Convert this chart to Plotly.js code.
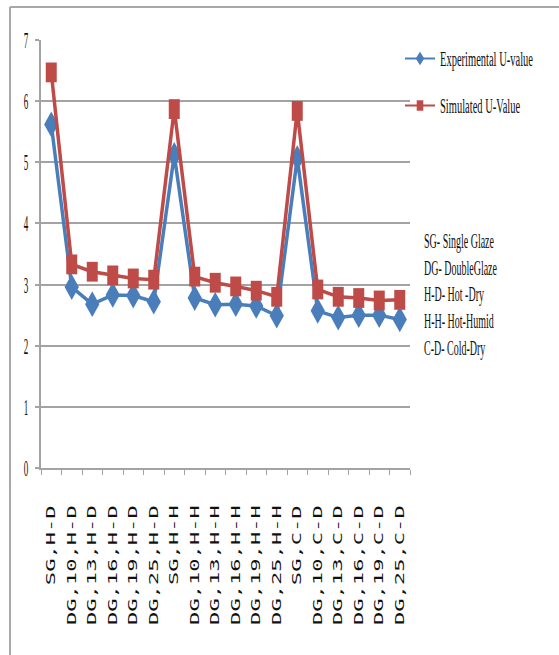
<!DOCTYPE html>
<html>
<head>
<meta charset="utf-8">
<script src="https://cdn.plot.ly/plotly-3.0.1.min.js"></script>
<style>
html, body { margin: 0; padding: 0; background: #ffffff; }
#chart { width: 559px; height: 655px; }
</style>
</head>
<body>
<div id="chart"></div>
<script>
// ---- data ----
const categories = ["SG,H-D","DG,10,H-D","DG,13,H-D","DG,16,H-D","DG,19,H-D","DG,25,H-D",
                    "SG,H-H","DG,10,H-H","DG,13,H-H","DG,16,H-H","DG,19,H-H","DG,25,H-H",
                    "SG,C-D","DG,10,C-D","DG,13,C-D","DG,16,C-D","DG,19,C-D","DG,25,C-D"];
const experimentalU = [5.62, 2.96, 2.68, 2.83, 2.82, 2.72,
                       5.12, 2.78, 2.67, 2.68, 2.65, 2.49,
                       5.07, 2.57, 2.46, 2.50, 2.50, 2.43];
const simulatedU = [6.47, 3.33, 3.21, 3.15, 3.10, 3.08,
                    5.87, 3.13, 3.03, 2.97, 2.90, 2.80,
                    5.84, 2.92, 2.80, 2.78, 2.74, 2.75];
const seriesNames = ["Experimental U-value", "Simulated U-Value"];
const yTickValues = [0, 1, 2, 3, 4, 5, 6, 7];
const noteLines = ["SG- Single Glaze", "DG- DoubleGlaze", "H-D- Hot -Dry", "H-H- Hot-Humid", "C-D- Cold-Dry"];

// ---- styling ----
const BLUE = "#4a7ebb";
const RED = "#be4b48";
const GRID = "#a3a3a3";
const SERIF = "Liberation Serif, Times New Roman, serif";

const traces = [
  {
    type: "scatter", mode: "lines+markers", name: seriesNames[0], legendgroup: "a",
    x: categories, y: experimentalU,
    line: { color: BLUE, width: 3.5 },
    marker: { symbol: "diamond", size: 11, color: BLUE }
  },
  {
    type: "scatter", mode: "lines+markers", name: seriesNames[1], legendgroup: "b",
    x: categories, y: simulatedU,
    line: { color: RED, width: 3.5 },
    marker: { symbol: "square", size: 11, color: RED }
  }
];

const W = 559, H = 655, L = 41, R = 410, T = 40, B = 468;
const px2x = p => (p - L) / (R - L);
const px2y = p => (B - p) / (B - T);

const noteY = [241, 268, 294, 321, 348];
const annotations = noteLines.map((t, i) => ({
  xref: "paper", yref: "paper", x: px2x(422), y: px2y(noteY[i]),
  xanchor: "left", yanchor: "middle", showarrow: false,
  text: t, font: { family: SERIF, size: 10, color: "#111111" }
}));

const layout = {
  width: W, height: H,
  margin: { l: L, r: W - R, t: T, b: H - B, pad: 0 },
  paper_bgcolor: "#ffffff", plot_bgcolor: "#ffffff",
  showlegend: true,
  legend: {
    x: px2x(400), y: px2y(44), xanchor: "left", yanchor: "top",
    font: { family: SERIF, size: 10.5, color: "#111111" },
    tracegroupgap: 28, bgcolor: "rgba(0,0,0,0)", borderwidth: 0
  },
  xaxis: {
    type: "category", tickson: "boundaries", range: [-0.5, categories.length - 0.5],
    autorange: false,
    showgrid: false, zeroline: false,
    showline: true, linecolor: GRID, linewidth: 2,
    ticks: "outside", ticklen: 5, tickcolor: GRID, tickwidth: 1,
    tickangle: -90, ticklabelstandoff: 30,
    tickfont: { family: "DejaVu Sans Mono, monospace", size: 13, color: "#111111" }
  },
  yaxis: {
    range: [0, 7], tickvals: yTickValues, ticktext: yTickValues.map(String),
    showgrid: true, gridcolor: GRID, gridwidth: 2,
    zeroline: false, showline: true, linecolor: GRID, linewidth: 2,
    ticks: "outside", ticklen: 4, tickcolor: GRID, tickwidth: 2,
    ticklabelstandoff: 5,
    tickfont: { family: SERIF, size: 9, color: "#111111" }
  },
  annotations: annotations,
  shapes: [
    { type: "line", xref: "paper", yref: "paper", x0: px2x(10), x1: px2x(10), y0: px2y(7), y1: px2y(660),
      line: { color: "#a8a8a8", width: 2 } },
    { type: "line", xref: "paper", yref: "paper", x0: px2x(10), x1: px2x(565), y0: px2y(7), y1: px2y(7),
      line: { color: "#a8a8a8", width: 2 } }
  ]
};

function stretchEls(els, k, mode) {
  els.forEach(el => {
    const r = el.getBoundingClientRect();
    const sy = mode === "top" ? r.top : (r.top + r.bottom) / 2;
    const ctm = el.parentNode.getScreenCTM();
    const y0 = (sy - ctm.f) / ctm.d;
    const prev = el.getAttribute("transform") || "";
    el.setAttribute("transform", `translate(0 ${y0}) scale(1 ${k}) translate(0 ${-y0}) ${prev}`);
  });
}
function scaleMarkers(els, sx, sy) {
  els.forEach(el => {
    const prev = el.getAttribute("transform") || "";
    el.setAttribute("transform", `${prev} scale(${sx} ${sy})`);
  });
}

Plotly.newPlot("chart", traces, layout, { staticPlot: true, displayModeBar: false }).then(gd => {
  const q = s => Array.from(gd.querySelectorAll(s));
  stretchEls(q(".ytick text"), 2.6, "center");
  stretchEls(q(".xtick text"), 1.7, "top");
  stretchEls(q(".legendtext"), 1.9, "center");
  stretchEls(q(".annotation-text"), 2.0, "center");
  scaleMarkers(q(".scatterlayer .points path"), 1, 1.8);
  scaleMarkers(q(".legend .legendpoints path"), 0.6, 0.95);
  q(".legend .legendlines path").forEach(p => { p.style.strokeWidth = "2px"; });
});
</script>
</body>
</html>
